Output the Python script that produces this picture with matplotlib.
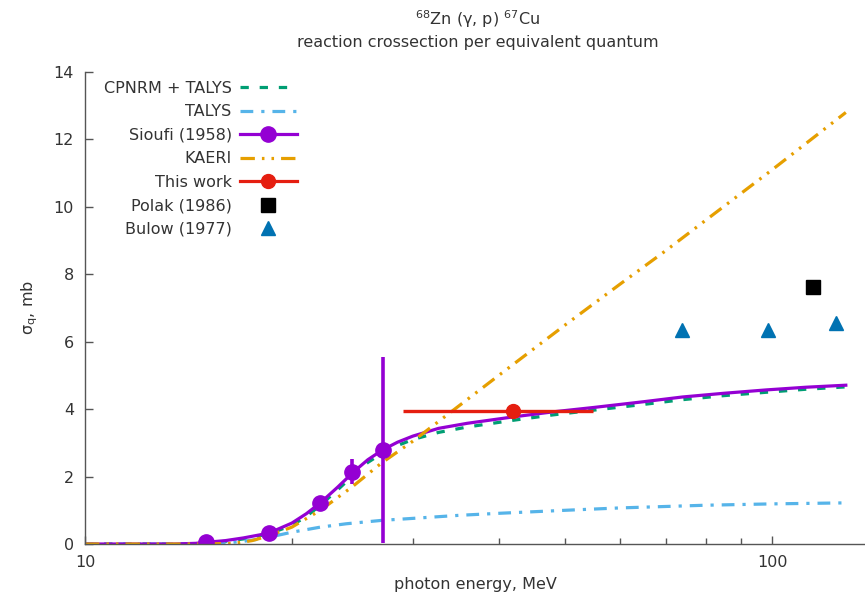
import matplotlib
matplotlib.use("Agg")
import matplotlib.pyplot as plt
from matplotlib.lines import Line2D
from matplotlib.ticker import FixedLocator, NullFormatter

# CPNRM + TALYS (green dashed)
cpnrm_x = [10, 12, 13.5, 14.5, 15, 16, 17, 18.5, 20, 21, 22, 23.3, 24.6, 25.8, 27.1,
           28.5, 30, 32.7, 36, 42, 48, 55, 65, 74, 85, 98, 112, 128]
cpnrm_y = [0, 0, 0, 0.01, 0.03, 0.08, 0.15, 0.3, 0.55, 0.82, 1.15, 1.6, 2.05, 2.42, 2.7,
           2.92, 3.1, 3.31, 3.47, 3.67, 3.83, 3.97, 4.14, 4.28, 4.4, 4.5, 4.59, 4.66]

# TALYS (light blue dash-dot)
talys_x = [10, 15, 16, 17, 18, 19, 20, 22, 24, 27, 30, 35, 40, 50, 60, 80, 100, 128]
talys_y = [0, 0, 0.03, 0.08, 0.15, 0.25, 0.35, 0.5, 0.6, 0.7, 0.76, 0.85, 0.91, 1.0,
           1.07, 1.15, 1.19, 1.22]

# Sioufi (1958) fitted curve and measured points
sioufi_curve_x = cpnrm_x
sioufi_curve_y = [0, 0, 0, 0.02, 0.05, 0.1, 0.18, 0.32, 0.62, 0.9, 1.22, 1.68, 2.14, 2.5,
                  2.79, 3.02, 3.2, 3.43, 3.58, 3.77, 3.92, 4.05, 4.22, 4.36, 4.47, 4.57,
                  4.65, 4.71]
sioufi_x = [15.0, 18.5, 22.0, 24.5, 27.1]
sioufi_y = [0.05, 0.32, 1.22, 2.14, 2.79]
sioufi_err = [0, 0, 0, 0.37, 2.77]

# KAERI (orange dash-dot-dot)
kaeri_x = [10, 15, 16.5, 17.5, 18.5, 20, 22, 24.5, 27, 30, 40, 50, 60, 70, 80, 100, 128]
kaeri_y = [0, 0, 0.02, 0.1, 0.24, 0.5, 1.0, 1.7, 2.4, 3.05, 5.0, 6.5, 7.7, 8.7, 9.6,
           11.1, 12.8]

# This work
work_x = [42.0]
work_y = [3.95]
work_xerr = [[13.0], [12.9]]

# Polak (1986), Bulow (1977)
polak_x = [114.7]
polak_y = [7.63]
bulow_x = [74.0, 98.7, 124.0]
bulow_y = [6.35, 6.35, 6.56]

c_green = "#009e73"
c_sky = "#56b4e9"
c_purple = "#9400d3"
c_orange = "#e69f00"
c_red = "#e51e10"
c_blue = "#0072b2"
txt = "#333333"

plt.rcParams["font.family"] = "DejaVu Sans"

fig = plt.figure(figsize=(8.65, 6.04), dpi=100)
ax = fig.add_axes([85 / 865, 1 - 544 / 604, 780 / 865, 472 / 604])

lw = 2.3
ax.plot(cpnrm_x, cpnrm_y, color=c_green, lw=lw, dashes=(2.6, 3.4))
ax.plot(talys_x, talys_y, color=c_sky, lw=lw, dashes=(4, 2.5, 1, 2.5))
ax.plot(sioufi_curve_x, sioufi_curve_y, color=c_purple, lw=lw)
ax.errorbar(sioufi_x, sioufi_y, yerr=sioufi_err, fmt="o", color=c_purple, ms=11,
            elinewidth=2.6, capsize=0)
ax.plot(kaeri_x, kaeri_y, color=c_orange, lw=lw, dashes=(4.5, 2.2, 0.8, 2.2, 0.8, 2.2))
ax.errorbar(work_x, work_y, xerr=work_xerr, fmt="o", color=c_red, ms=10,
            elinewidth=2.4, capsize=0)
ax.plot(polak_x, polak_y, "s", color="black", ms=9.5, ls="none")
ax.plot(bulow_x, bulow_y, "^", color=c_blue, ms=10.5, ls="none")

ax.set_xscale("log")
ax.set_xlim(10, 136.5)
ax.set_ylim(0, 14)
ax.set_yticks(range(0, 15, 2))
ax.xaxis.set_major_locator(FixedLocator([10, 100]))
ax.xaxis.set_minor_locator(FixedLocator([20, 30, 40, 50, 60, 70, 80, 90]))
ax.xaxis.set_minor_formatter(NullFormatter())
ax.set_xticklabels(["10", "100"])

for s in ["top", "right"]:
    ax.spines[s].set_visible(False)
for s in ["left", "bottom"]:
    ax.spines[s].set_color("#555555")
    ax.spines[s].set_linewidth(1.0)

ax.tick_params(axis="both", which="major", direction="in", length=6, width=1,
               color="#555555", labelsize=11.5, labelcolor=txt, pad=8)
ax.tick_params(axis="x", which="minor", direction="in", length=4, width=1,
               color="#555555")

ax.set_xlabel("photon energy, MeV", fontsize=11.5, color=txt, labelpad=5)
ax.set_ylabel(r"σ$_{\mathrm{q}}$, mb", fontsize=11.5, color=txt)
ax.yaxis.set_label_coords(-0.058, 0.5)

fig.text(478 / 865, 1 - 19 / 604, r"$^{68}$Zn (γ, p) $^{67}$Cu", ha="center",
         va="center", fontsize=11.5, color=txt)
fig.text(478 / 865, 1 - 42 / 604, "reaction crossection per equivalent quantum",
         ha="center", va="center", fontsize=11.5, color=txt)

handles = [
    Line2D([], [], color=c_green, lw=lw, dashes=(2.6, 3.4)),
    Line2D([], [], color=c_sky, lw=lw, dashes=(4, 2.5, 1, 2.5)),
    Line2D([], [], color=c_purple, lw=lw, marker="o", ms=11),
    Line2D([], [], color=c_orange, lw=lw, dashes=(4.5, 2.2, 0.8, 2.2, 0.8, 2.2)),
    Line2D([], [], color=c_red, lw=lw, marker="o", ms=10),
    Line2D([], [], color="black", ls="none", marker="s", ms=9.5),
    Line2D([], [], color=c_blue, ls="none", marker="^", ms=10.5),
]
labels = ["CPNRM + TALYS", "TALYS", "Sioufi (1958)", "KAERI", "This work",
          "Polak (1986)", "Bulow (1977)"]
leg = ax.legend(handles, labels, loc="upper right", bbox_to_anchor=(0.272, 0.981),
                frameon=False, markerfirst=False, fontsize=11.5, handlelength=3.6,
                handletextpad=0.5, labelspacing=0.53, borderpad=0, borderaxespad=0,
                numpoints=1)
for t in leg.get_texts():
    t.set_color(txt)

fig.savefig("out.png", dpi=100)
